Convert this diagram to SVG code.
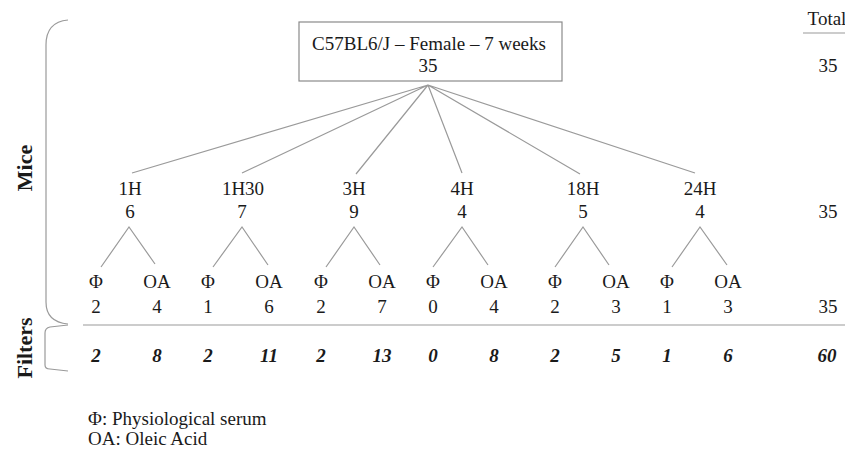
<svg xmlns="http://www.w3.org/2000/svg" width="845" height="452" viewBox="0 0 845 452">
<style>
text{font-family:"Liberation Serif","Times New Roman",serif;font-size:19px;fill:#1a1a1a;text-anchor:middle}
.bi{font-weight:bold;font-style:italic}
.side{font-weight:bold;font-size:22px}
.ln{stroke:#9a9a9a;stroke-width:1.2;fill:none}
.legend{text-anchor:start}
</style>
<rect width="845" height="452" fill="#fff"/>
<g id="braces">
<path class="ln" d="M68,20 Q46,22 46,45 L46,302 Q46,322 68,324"/>
<path class="ln" d="M68,325 L50,327 Q45,328 45,333 L45,365 Q45,369 50,369 L68,371"/>
<text class="side" transform="translate(32,168) rotate(-90)">Mice</text>
<text class="side" transform="translate(32,348) rotate(-90)">Filters</text>
</g>
<g id="connectors">
<path class="ln" d="M428,85 L132,173 M428,85 L242,173 M428,85 L356,174 M428,85 L462,173 M428,85 L580,174 M428,85 L695,173"/>
<path class="ln" d="M101,267 L129,227 L155,264 M213,267 L242,227 L268,265 M326,267 L354,227 L380,265 M433,267 L462,227 L488,265 M555,267 L583,227 L609,265 M672,267 L700,227 L727,265"/>
<path class="ln" d="M83,325 L845,325 M803,33 L845,33"/>
</g>
<g id="root">
<rect x="299" y="22" width="263" height="59" fill="#fff" stroke="#8a8a8a" stroke-width="1.2"/>
<text x="429" y="50">C57BL6/J – Female – 7 weeks</text>
<text x="428" y="72">35</text>
</g>
<g id="n1H"><text x="130" y="195">1H</text><text x="130" y="218">6</text></g>
<g id="n1H30"><text x="243" y="195">1H30</text><text x="242" y="218">7</text></g>
<g id="n3H"><text x="354" y="195">3H</text><text x="354" y="218">9</text></g>
<g id="n4H"><text x="462" y="195">4H</text><text x="462" y="218">4</text></g>
<g id="n18H"><text x="583" y="195">18H</text><text x="583" y="218">5</text></g>
<g id="n24H"><text x="700" y="195">24H</text><text x="700" y="218">4</text></g>
<g id="leaves">
<text x="96" y="288">Φ</text><text x="96" y="313">2</text><text x="96" y="362" class="bi">2</text>
<text x="157" y="288">OA</text><text x="157" y="313">4</text><text x="157" y="362" class="bi">8</text>
<text x="208" y="288">Φ</text><text x="208" y="313">1</text><text x="208" y="362" class="bi">2</text>
<text x="269" y="288">OA</text><text x="269" y="313">6</text><text x="269" y="362" class="bi">11</text>
<text x="321" y="288">Φ</text><text x="321" y="313">2</text><text x="321" y="362" class="bi">2</text>
<text x="382" y="288">OA</text><text x="382" y="313">7</text><text x="382" y="362" class="bi">13</text>
<text x="433" y="288">Φ</text><text x="433" y="313">0</text><text x="433" y="362" class="bi">0</text>
<text x="494" y="288">OA</text><text x="494" y="313">4</text><text x="494" y="362" class="bi">8</text>
<text x="555" y="288">Φ</text><text x="555" y="313">2</text><text x="555" y="362" class="bi">2</text>
<text x="616" y="288">OA</text><text x="616" y="313">3</text><text x="616" y="362" class="bi">5</text>
<text x="667" y="288">Φ</text><text x="667" y="313">1</text><text x="667" y="362" class="bi">1</text>
<text x="728" y="288">OA</text><text x="728" y="313">3</text><text x="728" y="362" class="bi">6</text>
</g>
<g id="totals">
<text x="827" y="25">Total</text>
<text x="828" y="72">35</text>
<text x="828" y="218">35</text>
<text x="828" y="313">35</text>
<text x="827" y="362" class="bi">60</text>
</g>
<g id="legend">
<text class="legend" x="88" y="425">Φ: Physiological serum</text>
<text class="legend" x="88" y="445">OA: Oleic Acid</text>
</g>
</svg>
